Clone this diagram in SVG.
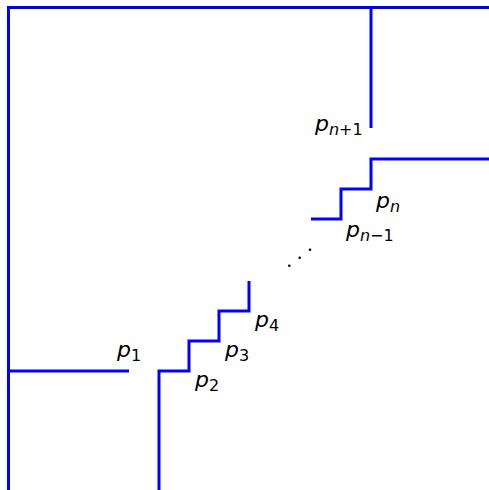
<svg xmlns="http://www.w3.org/2000/svg" width="489" height="490" viewBox="0 0 489 490">
<style>
.ln{fill:none;stroke:#0000ff;stroke-width:3;stroke-linejoin:miter;stroke-linecap:butt}
.lb{font-family:"DejaVu Sans",sans-serif;font-style:italic;font-size:22px;fill:#000}
.sb{font-size:16px}
.up{font-style:normal}
.dot{fill:#000}
</style>
<rect width="489" height="490" fill="#fff"/>
<g id="connectors">
<path class="ln" d="M8.5,490 V7.5 H489"/>
<path class="ln" d="M371,7.5 V128"/>
<path class="ln" d="M8.5,371 H129"/>
<path class="ln" d="M159,490 V371 H189 V341 H219 V311 H249 V281"/>
<path class="ln" d="M311,219 H341 V189 H371 V159 H489"/>
</g>
<g id="labels">
<text class="lb" x="117" y="357">p<tspan class="sb up" dy="4">1</tspan></text>
<text class="lb" x="195" y="387">p<tspan class="sb up" dy="4">2</tspan></text>
<text class="lb" x="225" y="357">p<tspan class="sb up" dy="4">3</tspan></text>
<text class="lb" x="255" y="327">p<tspan class="sb up" dy="4">4</tspan></text>
<text class="lb" x="376" y="208">p<tspan class="sb" dy="4">n</tspan></text>
<text class="lb" x="346" y="237">p<tspan class="sb" dy="4">n</tspan><tspan class="sb up">−1</tspan></text>
<text class="lb" x="315" y="131">p<tspan class="sb" dy="4">n</tspan><tspan class="sb up">+1</tspan></text>
</g>
<g id="ellipsis">
<circle class="dot" cx="289.3" cy="265.7" r="1.3"/>
<circle class="dot" cx="299.7" cy="257.7" r="1.3"/>
<circle class="dot" cx="310" cy="249.7" r="1.3"/>
</g>
</svg>
